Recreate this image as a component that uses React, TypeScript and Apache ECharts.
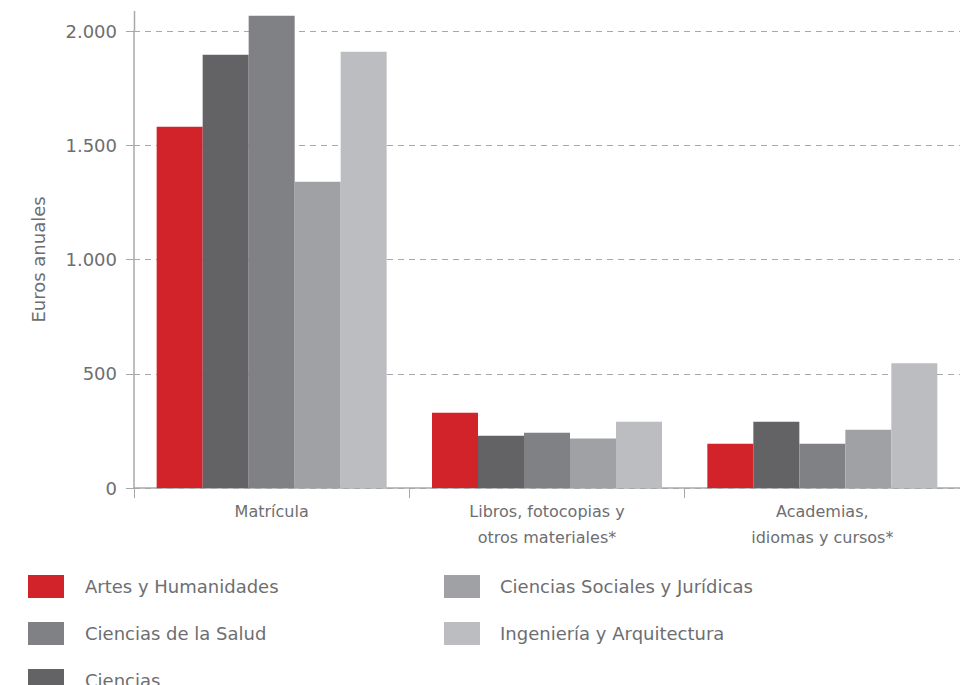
import React, { useEffect, useRef } from "react";
import * as echarts from "echarts";

const categories = ["Matrícula", "Libros, fotocopias y\notros materiales*", "Academias,\nidiomas y cursos*"];
const seriesNames = [
  "Artes y Humanidades",
  "Ciencias",
  "Ciencias de la Salud",
  "Ciencias Sociales y Jurídicas",
  "Ingeniería y Arquitectura",
];
const artes = [1581, 329, 194];
const ciencias = [1896, 229, 290];
const salud = [2067, 242, 194];
const sociales = [1340, 217, 255];
const ingenieria = [1909, 290, 546];
const yTicks = [0, 500, 1000, 1500, 2000];

const colors = ["#d2232a", "#636365", "#808184", "#a0a1a4", "#bcbdc0"];
const values = [artes, ciencias, salud, sociales, ingenieria];

const textColor = "#6d6e71";
const axisColor = "#a7a8aa";
const font = "DejaVu Sans";

const fmt = (v: number) => String(v).replace(/\B(?=(\d{3})+(?!\d))/g, ".");

export default function App() {
  const ref = useRef<HTMLDivElement>(null);
  useEffect(() => {
    if (!ref.current) return;
    const chart = echarts.init(ref.current, undefined, { renderer: "svg" });
    const legendBase = {
      orient: "vertical",
      padding: 0,
      itemWidth: 36,
      itemHeight: 23,
      itemGap: 24,
      icon: "rect",
      height: 200,
    };
    const legendText = {
      color: textColor,
      fontFamily: font,
      fontSize: 18,
      padding: [0, 0, 0, 16],
    };
    chart.setOption({
      animation: false,
      grid: { left: 134, right: 0, top: 31, bottom: 197, containLabel: false },
      xAxis: {
        type: "category",
        data: categories,
        axisLine: { lineStyle: { color: axisColor, width: 1.5 } },
        axisTick: { show: true, length: 10, lineStyle: { color: axisColor } },
        axisLabel: {
          color: textColor,
          fontFamily: font,
          fontSize: 16,
          lineHeight: 26,
          margin: 10,
        },
      },
      yAxis: {
        type: "value",
        min: yTicks[0],
        max: yTicks[yTicks.length - 1],
        interval: 500,
        name: "Euros anuales",
        nameLocation: "middle",
        nameGap: 87,
        nameTextStyle: { color: textColor, fontFamily: font, fontSize: 18 },
        axisLine: { show: true, lineStyle: { color: axisColor, width: 1.5 } },
        axisTick: { show: true, length: 8, lineStyle: { color: axisColor } },
        axisLabel: {
          color: textColor,
          fontFamily: font,
          fontSize: 18,
          margin: 17,
          formatter: (v: number) => fmt(v),
        },
        splitLine: { lineStyle: { color: "#a7a8aa", type: [6, 5], width: 1 } },
      },
      legend: [
        {
          ...legendBase,
          left: 28,
          top: 575,
          data: [seriesNames[0], seriesNames[2]],
          textStyle: legendText,
        },
        {
          ...legendBase,
          left: 28,
          top: 669,
          data: [seriesNames[1]],
          textStyle: legendText,
        },
        {
          ...legendBase,
          left: 444,
          top: 575,
          data: [seriesNames[3], seriesNames[4]],
          textStyle: { ...legendText, padding: [0, 0, 0, 15] },
        },
      ],
      graphic: [
        {
          type: "line",
          shape: { x1: 134.5, y1: 11, x2: 134.5, y2: 31 },
          style: { stroke: axisColor, lineWidth: 1.5 },
        },
      ],
      series: seriesNames.map((name, i) => ({
        name,
        type: "bar",
        data: values[i],
        barWidth: 46,
        barGap: "0%",
        clip: false,
        itemStyle: { color: colors[i] },
      })),
    });
    return () => chart.dispose();
  }, []);
  return (
    <div
      ref={ref}
      style={{ position: "fixed", left: 0, top: 0, width: 960, height: 685, overflow: "hidden", background: "#fff" }}
    />
  );
}
